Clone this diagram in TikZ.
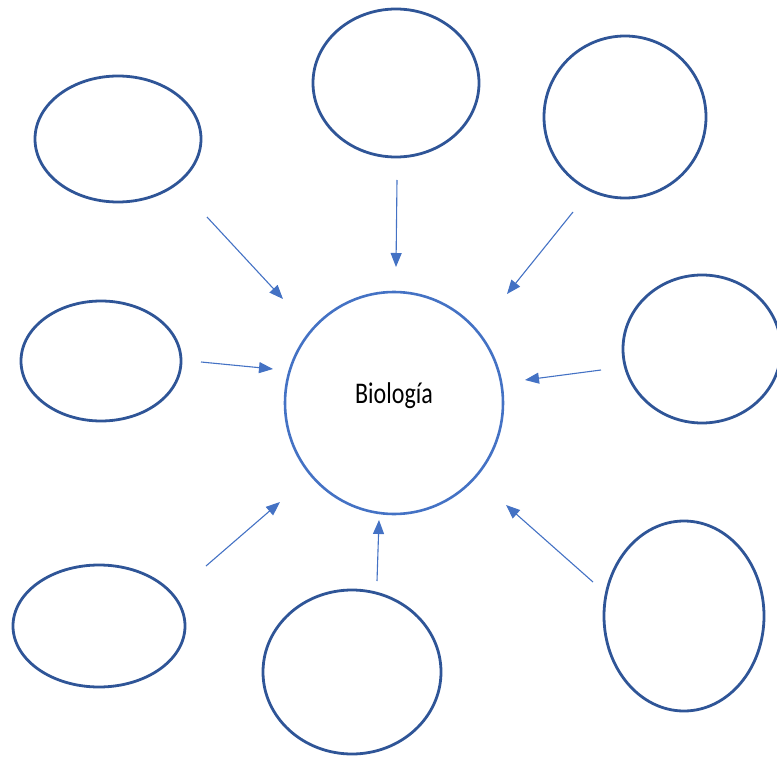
\documentclass[tikz,border=0pt]{standalone}
\usepackage{fontspec}
\setmainfont{Carlito}
\usetikzlibrary{positioning,arrows.meta,shapes.geometric}

\definecolor{ringdark}{RGB}{47,85,151}
\definecolor{ringlight}{RGB}{68,114,196}

\begin{document}
\begin{tikzpicture}[x=1pt, y=-1pt,
    bubble/.style={draw=ringdark, line width=2.8pt, ellipse, inner sep=0pt},
    feed/.style={draw=ringlight, line width=1.1pt,
      -{Triangle[length=14pt, width=11pt]}}]

  \useasboundingbox (0,0) rectangle (777,757);

  % central topic
  \node[draw=ringlight, line width=2.6pt, ellipse, inner sep=0pt,
    minimum width=218pt, minimum height=222pt] (bio) at (394,403) {};
  \node[font=\fontsize{30}{36}\selectfont, xscale=0.8, anchor=base,
    inner sep=0pt] (biotxt) at (394,403) {Biología};

  % surrounding bubbles
  \node[bubble, minimum width=166pt, minimum height=126pt] (tl) at (118,139) {};
  \node[bubble, minimum width=166pt, minimum height=148pt] (tc) at (396,83) {};
  \node[bubble, minimum width=162pt, minimum height=162pt] (tr) at (625,117) {};
  \node[bubble, minimum width=158pt, minimum height=148pt] (r) at (702,349) {};
  \node[bubble, minimum width=160pt, minimum height=190pt] (br) at (684,616) {};
  \node[bubble, minimum width=178pt, minimum height=164pt] (bc) at (352,672) {};
  \node[bubble, minimum width=172pt, minimum height=122pt] (bl) at (99,626) {};
  \node[bubble, minimum width=160pt, minimum height=120pt] (l) at (101,361) {};

  % arrow ends
  \coordinate (tlA) at (207,217);  \coordinate (tlB) at (283,299);
  \coordinate (tcA) at (397,180);  \coordinate (tcB) at (396,267);
  \coordinate (trA) at (573,212);  \coordinate (trB) at (507,294);
  \coordinate (rA)  at (601,370);  \coordinate (rB)  at (525,380);
  \coordinate (brA) at (593,582);  \coordinate (brB) at (506,505);
  \coordinate (bcA) at (377,581);  \coordinate (bcB) at (379,520);
  \coordinate (blA) at (206,566);  \coordinate (blB) at (280,502);
  \coordinate (lA)  at (201,362);  \coordinate (lB)  at (273,369);

  % arrows into the centre
  \foreach \n in {tl,tc,tr,r,br,bc,bl,l}
    \draw[feed] (\n A) -- (\n B);

\end{tikzpicture}
\end{document}
